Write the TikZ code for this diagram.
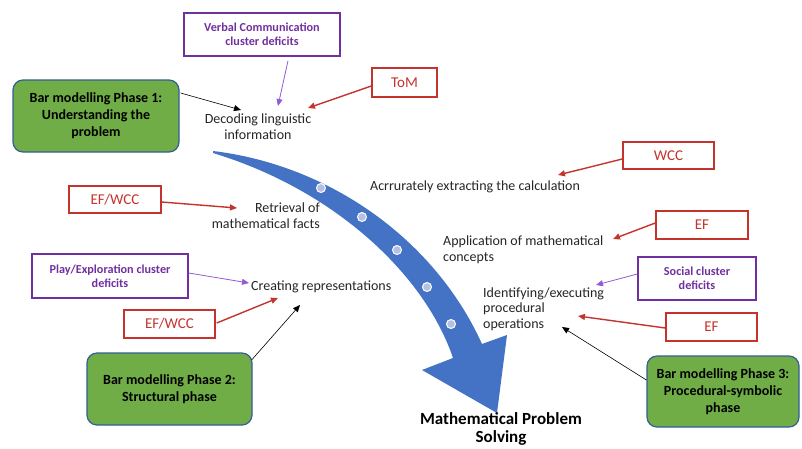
\documentclass[tikz,border=0pt]{standalone}
\usepackage{fontspec}
\setmainfont{Carlito}
\usetikzlibrary{arrows.meta}
\definecolor{myred}{RGB}{196,52,44}
\definecolor{mypurple}{RGB}{112,48,160}
\definecolor{lpurple}{RGB}{150,90,210}
\definecolor{mygreen}{RGB}{112,173,71}
\definecolor{gborder}{RGB}{52,94,150}
\definecolor{myblue}{RGB}{68,114,196}
\definecolor{dotfill}{RGB}{180,192,228}
\begin{document}
\begin{tikzpicture}[x=1pt,y=-1pt,
  redbox/.style={draw=myred,line width=1.4pt,fill=white,text=myred,inner sep=0pt,
    font=\fontsize{15}{17}\selectfont},
  purplebox/.style={draw=mypurple,line width=1.4pt,fill=white,text=mypurple,inner sep=0pt,
    align=center,font=\fontsize{12.2}{14.5}\selectfont\bfseries},
  greenbox/.style={draw=gborder,line width=1.2pt,fill=mygreen,rounded corners=10pt,inner sep=0pt,
    align=center,font=\fontsize{14}{17}\selectfont\bfseries},
  lbl/.style={inner sep=0pt,font=\fontsize{14}{16}\selectfont,text=black!85},
  redarr/.style={draw=myred,line width=1.4pt,-{Triangle[length=7pt,width=6pt]}},
  purarr/.style={draw=lpurple,line width=0.8pt,-{Triangle[length=7pt,width=6pt]}},
  blkarr/.style={draw=black,line width=0.6pt,-{Triangle[length=7pt,width=6pt]}},
  dot/.style={circle,draw=white,line width=1pt,fill=dotfill,minimum size=9pt,inner sep=0pt}
]
\useasboundingbox (0,0) rectangle (802,448);
\fill[white] (0,0) rectangle (802,448);

% big curved arrow
\fill[myblue] (213,151) .. controls (330,165) and (435,240) .. (482,344)
  -- (507,335) -- (497,413) -- (422,370) -- (453,358)
  .. controls (425,275) and (335,190) .. (213,153) -- cycle;
\node[dot] (d1) at (321,188) {};
\node[dot] (d2) at (362,217) {};
\node[dot] (d3) at (397,250) {};
\node[dot] (d4) at (427,287) {};
\node[dot] (d5) at (451,324) {};

% boxes
\node[purplebox,minimum width=156pt,minimum height=43pt] (vc) at (262,34.5) {Verbal Communication\\cluster deficits};
\node[redbox,minimum width=65pt,minimum height=29pt] (tom) at (404.5,82.5) {ToM};
\node[greenbox,minimum width=166pt,minimum height=72pt] (g1) at (96,116) {Bar modelling Phase 1:\\Understanding the\\problem};
\node[redbox,minimum width=91pt,minimum height=27pt] (wcc) at (668.5,155.5) {WCC};
\node[redbox,minimum width=92pt,minimum height=27pt] (efwcc1) at (115,199.5) {EF/WCC};
\node[redbox,minimum width=92pt,minimum height=28pt] (ef1) at (702,225) {EF};
\node[purplebox,minimum width=118pt,minimum height=43pt] (social) at (697,278.5) {Social cluster\\deficits};
\node[purplebox,minimum width=156pt,minimum height=44pt] (play) at (110,276) {Play/Exploration cluster\\deficits};
\node[redbox,minimum width=91pt,minimum height=28pt] (efwcc2) at (169.5,324) {EF/WCC};
\node[redbox,minimum width=91pt,minimum height=28pt] (ef2) at (711.5,327) {EF};
\node[greenbox,minimum width=165pt,minimum height=72pt] (g2) at (169.5,389) {Bar modelling Phase 2:\\Structural phase};
\node[greenbox,minimum width=152pt,minimum height=71pt] (g3) at (723,391.5) {Bar modelling Phase 3:\\Procedural-symbolic\\phase};

% labels
\node[lbl,align=center] (dec) at (258,127) {Decoding linguistic\\information};
\node[lbl] (acc) at (475,187) {Acrrurately extracting the calculation};
\node[lbl,align=right,anchor=east] (ret) at (320,216) {Retrieval of\\mathematical facts};
\node[lbl,align=left,anchor=west] (app) at (443,250) {Application of mathematical\\concepts};
\node[lbl,align=left,anchor=west,font=\fontsize{14}{15.5}\selectfont] (ident) at (483,309) {Identifying/executing\\procedural\\operations};
\node[lbl,anchor=west] (cre) at (251,287) {Creating representations};
\node[inner sep=0pt,align=center,font=\fontsize{17}{17.5}\selectfont\bfseries] (mps) at (501,429) {Mathematical Problem\\Solving};

% arrow end points
\coordinate (e1) at (278,106);
\coordinate (e2) at (241,110);
\coordinate (e3) at (308,108);
\coordinate (e4) at (558,175);
\coordinate (e5) at (613,239);
\coordinate (e6) at (596,285);
\coordinate (e7) at (578,316);
\coordinate (e8) at (562,327);
\coordinate (e9) at (237,208);
\coordinate (e10) at (249,283);
\coordinate (e11) at (278,298);
\coordinate (e12) at (300,305);

\draw[purarr] ([xshift=26pt,yshift=-4pt]vc.south) -- (e1);
\draw[blkarr] ([yshift=23pt,xshift=1pt]g1.east) -- (e2);
\draw[redarr] ([yshift=-3.5pt]tom.west) -- (e3);
\draw[redarr] ([yshift=-3.5pt]wcc.west) -- (e4);
\draw[redarr] ([yshift=2pt]ef1.west) -- (e5);
\draw[purarr] ([yshift=4.5pt]social.west) -- (e6);
\draw[redarr] ([yshift=-1pt]ef2.west) -- (e7);
\draw[blkarr] ([yshift=11.5pt]g3.west) -- (e8);
\draw[redarr] ([yshift=-2.5pt]efwcc1.east) -- (e9);
\draw[purarr] ([yshift=3pt]play.east) -- (e10);
\draw[redarr] ([yshift=1pt,xshift=1pt]efwcc2.east) -- (e11);
\draw[blkarr] ([yshift=29pt,xshift=-1pt]g2.east) -- (e12);
\end{tikzpicture}
\end{document}
